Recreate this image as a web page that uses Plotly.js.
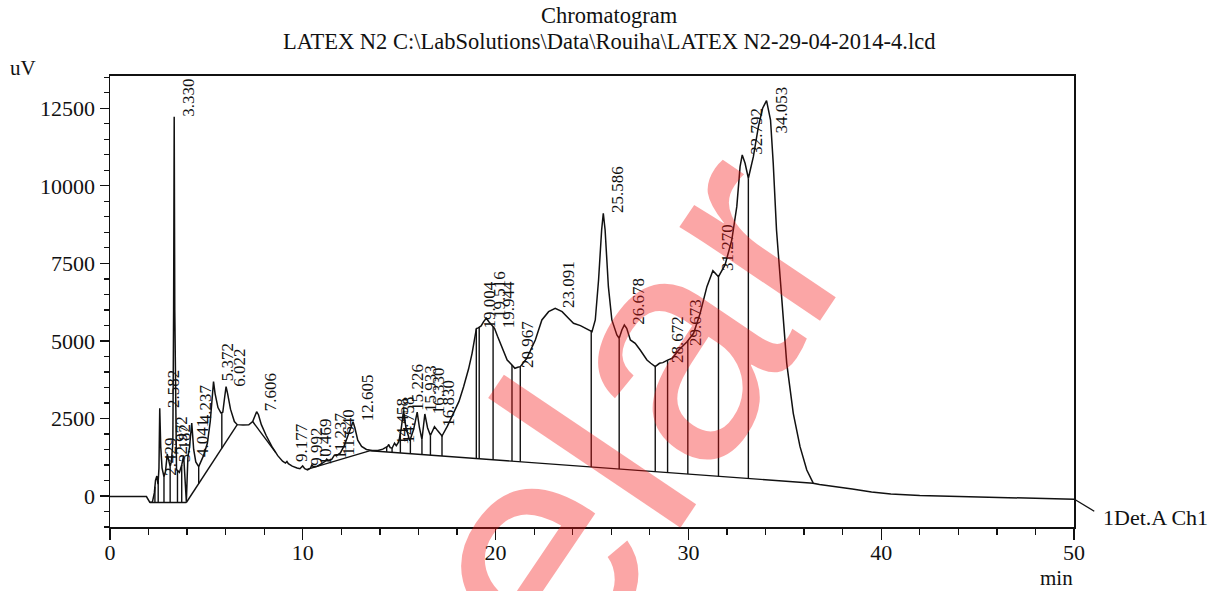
<!DOCTYPE html>
<html>
<head>
<meta charset="utf-8">
<script src="https://cdn.plot.ly/plotly-3.0.1.min.js"></script>
<style>
  html, body { margin: 0; padding: 0; background: #fff; }
  #chart { width: 1221px; height: 591px; }
</style>
</head>
<body>
<div id="chart"></div>
<script>
// ---- Chromatogram signal (retention time in min, signal in uV) ----
const times = [0, 1.89, 2.06, 2.2, 2.3, 2.36, 2.43, 2.49, 2.54, 2.58, 2.63, 2.70, 2.80, 2.88, 2.97, 3.05, 3.12, 3.18, 3.26, 3.30, 3.33, 3.36, 3.41, 3.45, 3.60, 3.72, 3.82, 3.90, 3.96, 4.04, 4.12, 4.24, 4.34, 4.45, 4.60, 4.85, 5.05, 5.20, 5.30, 5.37, 5.45, 5.60, 5.75, 5.85, 5.95, 6.02, 6.10, 6.25, 6.45, 6.60, 6.90, 7.20, 7.40, 7.52, 7.606, 7.70, 7.85, 8.10, 8.40, 8.70, 8.95, 9.10, 9.177, 9.25, 9.45, 9.70, 9.85, 9.992, 10.10, 10.25, 10.40, 10.469, 10.55, 10.75, 11.00, 11.15, 11.237, 11.33, 11.50, 11.640, 11.75, 11.95, 12.15, 12.35, 12.50, 12.605, 12.70, 12.85, 13.05, 13.30, 13.60, 13.90, 14.15, 14.30, 14.40, 14.458, 14.53, 14.63, 14.70, 14.758, 14.85, 14.98, 15.10, 15.226, 15.35, 15.55, 15.75, 15.933, 16.05, 16.18, 16.33, 16.47, 16.62, 16.83, 17.00, 17.22, 17.50, 17.82, 18.10, 18.34, 18.60, 18.78, 18.95, 19.004, 19.10, 19.25, 19.38, 19.516, 19.65, 19.80, 19.944, 20.10, 20.25, 20.45, 20.60, 20.85, 21.00, 21.15, 21.28, 21.62, 21.85, 22.06, 22.40, 22.75, 23.091, 23.45, 23.78, 24.04, 24.40, 24.74, 25.00, 25.17, 25.34, 25.50, 25.586, 25.68, 25.85, 26.03, 26.29, 26.41, 26.55, 26.678, 26.80, 26.99, 27.24, 27.50, 27.85, 28.05, 28.28, 28.50, 28.672, 28.92, 29.16, 29.50, 29.673, 29.93, 30.27, 30.61, 30.96, 31.27, 31.56, 31.90, 32.25, 32.51, 32.68, 32.792, 32.94, 33.11, 33.37, 33.63, 33.85, 34.053, 34.26, 34.40, 34.57, 34.83, 35.10, 35.44, 35.79, 36.14, 36.48, 36.80, 37.50, 38.50, 39.50, 40.50, 42.00, 45.00, 48.00, 50.00];
const signal = [-20, -20, -200, -190, 100, 500, 645, 380, 900, 2827, 1600, 900, 620, 800, 1350, 1150, 950, 1100, 1700, 6000, 12230, 6000, 1600, 850, 760, 1000, 1300, 500, -180, 1250, 1550, 2353, 1500, 1100, 945, 1300, 1700, 2400, 3300, 3685, 3300, 2850, 2680, 2700, 3200, 3524, 3300, 2800, 2400, 2300, 2290, 2295, 2400, 2620, 2718, 2620, 2300, 1950, 1590, 1300, 1120, 1060, 1110, 1040, 960, 900, 880, 967, 880, 840, 900, 1000, 940, 960, 1060, 1110, 1193, 1150, 1180, 1320, 1300, 1390, 1620, 1950, 2250, 2396, 2200, 1800, 1600, 1500, 1470, 1465, 1510, 1560, 1600, 1660, 1560, 1540, 1640, 1700, 1620, 1750, 2150, 2750, 2200, 1780, 2150, 2700, 2200, 1820, 2644, 2200, 1950, 2235, 2100, 1934, 2250, 2666, 3050, 3524, 4100, 4600, 5245, 5400, 5420, 5480, 5620, 5729, 5620, 5500, 5406, 5150, 4923, 4600, 4385, 4223, 4117, 4150, 4170, 4439, 4750, 5030, 5675, 5942, 6050, 5942, 5729, 5567, 5491, 5384, 5297, 5675, 6964, 8576, 9114, 8576, 6748, 5675, 5190, 5084, 5350, 5513, 5406, 5030, 4923, 4707, 4385, 4280, 4170, 4277, 4300, 4380, 4439, 4707, 4820, 4975, 5245, 5890, 6748, 7264, 7070, 7447, 8253, 9327, 10617, 10994, 10726, 10243, 10939, 11906, 12500, 12745, 12122, 10726, 8576, 6425, 4277, 2666, 1590, 838, 409, 370, 320, 225, 130, 65, 16, -32, -74, -106];

// ---- Integration baseline segments (start/end time, start/end signal) ----
const baseStartT = [2.06, 3.96, 7.40, 10.22, 13.50];
const baseEndT   = [3.96, 6.60, 8.60, 13.50, 36.48];
const baseStartV = [-210, -210, 2400, 860, 1460];
const baseEndV   = [-210, 2300, 1400, 1460, 409];

// ---- Peak separation (drop) lines, retention times ----
const dropTimes = [2.33, 2.50, 2.80, 3.12, 3.50, 3.72, 3.96, 4.60, 5.80, 14.35, 14.63, 15.06, 15.58, 16.18, 16.62, 17.22, 19.00, 19.15, 19.87, 20.85, 21.28, 24.96, 26.41, 28.28, 28.92, 29.97, 31.56, 33.11];

// ---- Peak labels and apex heights ----
const peakLabels = ["2.429","2.582","2.972","3.182","3.330","4.041","4.237","5.372","6.022","7.606","9.177","9.992","10.469","11.237","11.640","12.605","14.458","14.758","15.226","15.933","16.330","16.830","19.004","19.516","19.944","20.967","23.091","25.586","26.678","28.672","29.673","31.270","32.792","34.053"];
const peakHeights = [645, 2827, 1350, 1100, 12230, 1250, 2353, 3685, 3524, 2718, 1110, 967, 1000, 1193, 1320, 2396, 1660, 1700, 2750, 2700, 2644, 2235, 5400, 5729, 5406, 4117, 6050, 9114, 5513, 4300, 4820, 7264, 10994, 12745];

// ---- Axis ticks ----
const xTickVals = [0, 10, 20, 30, 40, 50];
const yTickVals = [0, 2500, 5000, 7500, 10000, 12500];

const titleLine1 = "Chromatogram";
const titleLine2 = "LATEX N2 C:\\LabSolutions\\Data\\Rouiha\\LATEX N2-29-04-2014-4.lcd";
const channelName = "1Det.A Ch1";
const watermark = "elar";

function interpCurve(t) {
  for (let i = 0; i < times.length - 1; i++) {
    if (t >= times[i] && t <= times[i + 1]) {
      const f = (t - times[i]) / (times[i + 1] - times[i]);
      return signal[i] + f * (signal[i + 1] - signal[i]);
    }
  }
  return signal[signal.length - 1];
}
function baseAt(t) {
  for (let i = 0; i < baseStartT.length; i++) {
    if (t >= baseStartT[i] - 1e-9 && t <= baseEndT[i] + 1e-9) {
      const f = (t - baseStartT[i]) / (baseEndT[i] - baseStartT[i]);
      return baseStartV[i] + f * (baseEndV[i] - baseStartV[i]);
    }
  }
  return interpCurve(t);
}

const bx = [], by = [];
for (let i = 0; i < baseStartT.length; i++) {
  bx.push(baseStartT[i], baseEndT[i], null);
  by.push(baseStartV[i], baseEndV[i], null);
}
const dx = [], dy = [];
dropTimes.forEach(t => { dx.push(t, t, null); dy.push(interpCurve(t), baseAt(t), null); });

const lineStyle = { color: '#111', width: 1.4 };
const traces = [
  { x: times, y: signal, mode: 'lines', line: { color: '#111', width: 1.5 }, hoverinfo: 'skip', showlegend: false },
  { x: bx, y: by, mode: 'lines', line: lineStyle, hoverinfo: 'skip', showlegend: false, connectgaps: false },
  { x: dx, y: dy, mode: 'lines', line: lineStyle, hoverinfo: 'skip', showlegend: false, connectgaps: false }
];

const serif = 'Liberation Serif, Times New Roman, serif';
const annotations = [];
peakLabels.forEach((lab, i) => {
  const t = parseFloat(lab);
  const h = peakHeights[i];
  const tooHigh = h > 12500;
  annotations.push({
    x: t, y: tooHigh ? 13330 : h, xref: 'x', yref: 'y',
    text: lab, showarrow: false, textangle: -90,
    xanchor: 'center', yanchor: tooHigh ? 'top' : 'bottom',
    xshift: 14, yshift: -2,
    font: { family: serif, size: 17, color: '#111' }
  });
});
annotations.push(
  { x: 0.518, y: 1.135, xref: 'paper', yref: 'paper', text: titleLine1, showarrow: false,
    xanchor: 'center', yanchor: 'middle', font: { family: serif, size: 22.5, color: '#111' } },
  { x: 0.518, y: 1.0776, xref: 'paper', yref: 'paper', text: titleLine2, showarrow: false,
    xanchor: 'center', yanchor: 'middle', font: { family: serif, size: 22.5, color: '#111' } },
  { x: -0.090, y: 1.018, xref: 'paper', yref: 'paper', text: 'uV', showarrow: false,
    xanchor: 'center', yanchor: 'middle', font: { family: serif, size: 21, color: '#111' } },
  { x: 0.982, y: -0.113, xref: 'paper', yref: 'paper', text: 'min', showarrow: false,
    xanchor: 'center', yanchor: 'middle', font: { family: serif, size: 21, color: '#111' } },
  { x: 1.028, y: 0.022, xref: 'paper', yref: 'paper', text: channelName, showarrow: false,
    xanchor: 'left', yanchor: 'middle', font: { family: serif, size: 22, color: '#111' } },
  { x: 0.535, y: 0.26, xref: 'paper', yref: 'paper', text: watermark, showarrow: false,
    xanchor: 'center', yanchor: 'middle', textangle: -56,
    font: { family: 'Liberation Sans, Arial, sans-serif', size: 320, color: 'rgba(245,20,20,0.38)' } }
);

const layout = {
  width: 1221, height: 591,
  margin: { l: 110, r: 147, t: 76, b: 64, pad: 0 },
  paper_bgcolor: '#fff', plot_bgcolor: '#fff',
  showlegend: false,
  xaxis: {
    range: [0, 50], tickvals: xTickVals, ticktext: xTickVals.map(String),
    ticks: 'outside', ticklen: 11, tickwidth: 1.3, tickcolor: '#111',
    minor: { dtick: 2, tick0: 0, ticks: 'outside', ticklen: 6, tickwidth: 1.3, tickcolor: '#111' },
    showline: true, linecolor: '#111', linewidth: 2, mirror: true,
    showgrid: false, zeroline: false, ticklabelstandoff: -6,
    tickfont: { family: serif, size: 22, color: '#111' }
  },
  yaxis: {
    range: [-1000, 13540], tickvals: yTickVals, ticktext: yTickVals.map(String),
    ticks: 'outside', ticklen: 9, tickwidth: 1.3, tickcolor: '#111',
    minor: { dtick: 500, tick0: 0, ticks: 'outside', ticklen: 5, tickwidth: 1.3, tickcolor: '#111' },
    showline: true, linecolor: '#111', linewidth: 1.5, mirror: true,
    showgrid: false, zeroline: false,
    tickfont: { family: serif, size: 22, color: '#111' }
  },
  shapes: [
    { type: 'line', xref: 'paper', yref: 'paper', x0: 1.0, y0: 0.062, x1: 1.021, y1: 0.035,
      line: { color: '#111', width: 1.3 } }
  ],
  annotations: annotations
};

Plotly.newPlot('chart', traces, layout, { staticPlot: true, displayModeBar: false });
</script>
</body>
</html>
